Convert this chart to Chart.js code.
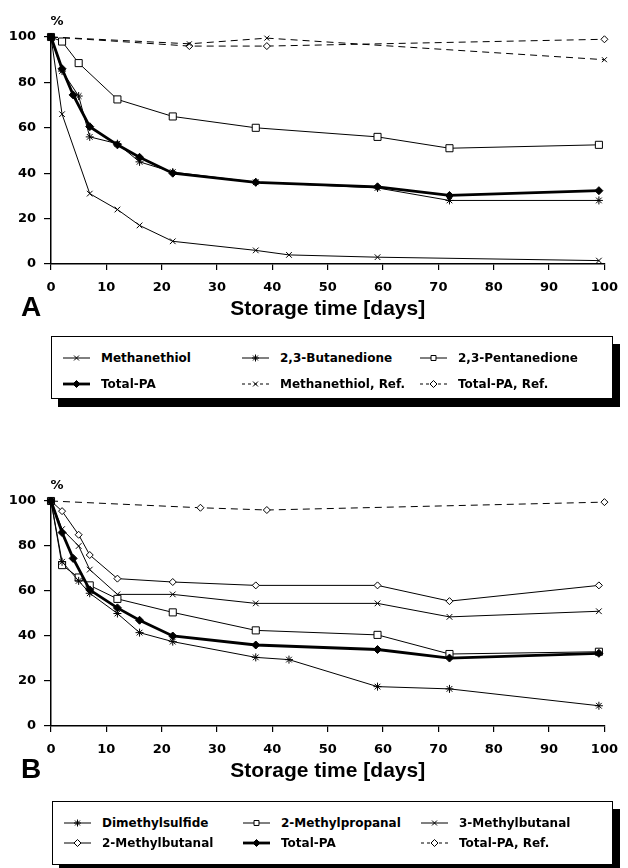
<!DOCTYPE html>
<html>
<head>
<meta charset="utf-8">
<title>Storage time</title>
<script src="https://cdn.jsdelivr.net/npm/chart.js@4.4.0/dist/chart.umd.min.js"></script>
<style>
    html, body { margin: 0; padding: 0; background: #fff; }
    #page { position: relative; width: 628px; height: 868px; overflow: hidden; }
    .panel { position: absolute; left: 0; }
    .legend {
        position: absolute;
        box-sizing: border-box;
        border: 1px solid #000;
        box-shadow: 7px 8px 0 #000;
        background: #fff;
        padding-left: 11px;
        display: grid;
        grid-template-columns: 179px 178px 1fr;
        font: bold 12px "DejaVu Sans", sans-serif;
        color: #000;
    }
    .legend .item { display: flex; align-items: center; white-space: nowrap; }
    .legend canvas { margin-right: 11px; }
    #legendA { left: 51px; top: 336px; width: 562px; height: 63px; padding-top: 8px; grid-auto-rows: 26px; }
    #legendB { left: 52px; top: 801px; width: 561px; height: 64px; padding-top: 11px; grid-auto-rows: 20px; }
</style>
</head>
<body>
<div id="page">
    <div class="panel" style="top:0"><canvas id="chartA" width="628" height="330"></canvas></div>
    <div class="legend" id="legendA"></div>
    <div class="panel" style="top:462px"><canvas id="chartB" width="628" height="330"></canvas></div>
    <div class="legend" id="legendB"></div>
</div>

<script>
"use strict";

// ---- panel A : sulfur compounds and diketones (% of initial amount) ----
var methanethiolDays = [0, 2, 7, 12, 16, 22, 37, 43, 59, 99];
var methanethiol     = [100, 66, 31, 24, 17, 10, 6, 4, 3, 1.5];

var butanedioneDays  = [0, 2, 5, 7, 12, 16, 22, 37, 59, 72, 99];
var butanedione      = [100, 85, 74, 56, 53, 45, 40.5, 36, 33.5, 28, 28];

var pentanedioneDays = [0, 2, 5, 12, 22, 37, 59, 72, 99];
var pentanedione     = [100, 98, 88.5, 72.5, 65, 60, 56, 51, 52.5];

// total of all flavour compounds, same curve in both panels
var totalDays        = [0, 2, 4, 7, 12, 16, 22, 37, 59, 72, 99];
var totalPA          = [100, 86, 74.5, 60.5, 52.5, 47, 40, 36, 34, 30.2, 32.3];

var refDaysA         = [0, 25, 39, 100];
var methanethiolRef  = [100, 97, 99.5, 90];
var totalRefA        = [100, 96, 96, 99];

// ---- panel B : aldehydes and dimethylsulfide ----
var dmsDays          = [0, 2, 5, 7, 12, 16, 22, 37, 43, 59, 72, 99];
var dimethylsulfide  = [100, 73, 64.5, 59, 50, 41.5, 37.5, 30.5, 29.5, 17.5, 16.5, 9];

var aldehydeDays     = [0, 2, 5, 7, 12, 22, 37, 59, 72, 99];
var methylpropanal   = [100, 71.5, 66, 62.5, 56.5, 50.5, 42.5, 40.5, 32, 33];
var methylbutanal3   = [100, 87.5, 80, 69.5, 58.5, 58.5, 54.5, 54.5, 48.5, 51];
var methylbutanal2   = [100, 95.5, 85, 76, 65.5, 64, 62.5, 62.5, 55.5, 62.5];

var refDaysB         = [0, 27, 39, 100];
var totalRefB        = [100, 97, 96, 99.5];

// axis ticks
var dayTicks     = [0, 10, 20, 30, 40, 50, 60, 70, 80, 90, 100];
var percentTicks = [0, 20, 40, 60, 80, 100];


var tickFont = { family: "DejaVu Sans", weight: "bold", size: 13 };

function series(label, days, values, style) {
    var ds = {
        label: label,
        data: days.map(function(d, i) { return { x: d, y: values[i] }; }),
        borderColor: "#000",
        borderWidth: 1,
        pointBorderColor: "#000",
        pointBackgroundColor: "#fff",
        pointBorderWidth: 1,
        pointRadius: 4,
        pointHoverRadius: 4,
        tension: 0,
        fill: false,
        clip: false
    };
    return Object.assign(ds, style);
}

// "%" over the value axis and the panel letter under it
var panelLabels = {
    id: "panelLabels",
    afterDraw: function(chart, args, opts) {
        var ctx = chart.ctx, area = chart.chartArea;
        ctx.save();
        ctx.fillStyle = "#000";
        ctx.textAlign = "center";
        ctx.textBaseline = "middle";
        ctx.font = "bold 13px 'DejaVu Sans'";
        ctx.fillText("%", area.left + 6, area.top - 15);
        ctx.font = "bold 28px 'Liberation Sans'";
        ctx.fillText(opts.letter, 31, area.bottom + 44);
        ctx.restore();
    }
};

function makeChart(id, letter, topPad, datasets) {
    return new Chart(document.getElementById(id), {
        type: "line",
        data: { datasets: datasets },
        plugins: [panelLabels],
        options: {
            responsive: false,
            animation: false,
            events: [],
            layout: { padding: { top: topPad, right: 15, bottom: 0, left: 0 } },
            plugins: {
                legend: { display: false },
                tooltip: { enabled: false },
                panelLabels: { letter: letter }
            },
            scales: {
                x: {
                    type: "linear",
                    min: 0,
                    max: 100,
                    afterFit: function(s) { s.height = 66; },
                    afterBuildTicks: function(s) { s.ticks = dayTicks.map(function(v) { return { value: v }; }); },
                    border: { color: "#000", width: 1.5 },
                    grid: { drawOnChartArea: false, tickLength: 6, color: "#000", lineWidth: 1.2 },
                    ticks: { autoSkip: false, maxRotation: 0, padding: 10, color: "#000", font: tickFont },
                    title: {
                        display: true,
                        text: "Storage time [days]",
                        color: "#000",
                        font: { family: "Liberation Sans", weight: "bold", size: 21 },
                        padding: { top: 0, bottom: 8 }
                    }
                },
                y: {
                    min: 0,
                    max: 100,
                    afterFit: function(s) { s.width = 51; },
                    afterBuildTicks: function(s) { s.ticks = percentTicks.map(function(v) { return { value: v }; }); },
                    border: { color: "#000", width: 1.5 },
                    grid: { drawOnChartArea: false, tickLength: 7, color: "#000", lineWidth: 1.2 },
                    ticks: { padding: 8, color: "#000", font: tickFont }
                }
            }
        }
    });
}

// legend: line sample drawn with the chart's own point renderer
function buildLegend(chart, el) {
    chart.data.datasets.forEach(function(ds) {
        var item = document.createElement("div");
        item.className = "item";
        var c = document.createElement("canvas");
        c.width = 27; c.height = 12;
        var g = c.getContext("2d");
        g.strokeStyle = "#000";
        g.lineWidth = ds.borderWidth;
        g.setLineDash(ds.borderDash ? [3, 3] : []);
        g.beginPath(); g.moveTo(0, 6); g.lineTo(27, 6); g.stroke();
        g.setLineDash([]);
        g.lineWidth = 1;
        g.fillStyle = ds.pointBackgroundColor;
        Chart.helpers.drawPoint(g, {
            pointStyle: ds.pointStyle,
            radius: Math.min(ds.pointRadius, 3.5),
            borderWidth: 1,
            rotation: 0
        }, 13.5, 6);
        var txt = document.createElement("span");
        txt.textContent = ds.label;
        item.appendChild(c);
        item.appendChild(txt);
        el.appendChild(item);
    });
}

// Total-PA gets the heavy line and sits on top of the others
var thick = { borderWidth: 2.8, pointStyle: "rectRot", pointRadius: 4, pointBackgroundColor: "#000", order: -1 };
var dashed = { borderDash: [7, 5], pointRadius: 3.5 };

var chartA = makeChart("chartA", "A", 37, [
    series("Methanethiol", methanethiolDays, methanethiol, { pointStyle: "crossRot" }),
    series("2,3-Butanedione", butanedioneDays, butanedione, { pointStyle: "star" }),
    series("2,3-Pentanedione", pentanedioneDays, pentanedione, { pointStyle: "rect", pointRadius: 5 }),
    series("Total-PA", totalDays, totalPA, thick),
    series("Methanethiol, Ref.", refDaysA, methanethiolRef, Object.assign({ pointStyle: "crossRot" }, dashed)),
    series("Total-PA, Ref.", refDaysA, totalRefA, Object.assign({ pointStyle: "rectRot", pointRadius: 3 }, dashed))
]);

var chartB = makeChart("chartB", "B", 39, [
    series("Dimethylsulfide", dmsDays, dimethylsulfide, { pointStyle: "star" }),
    series("2-Methylpropanal", aldehydeDays, methylpropanal, { pointStyle: "rect", pointRadius: 5 }),
    series("3-Methylbutanal", aldehydeDays, methylbutanal3, { pointStyle: "crossRot" }),
    series("2-Methylbutanal", aldehydeDays, methylbutanal2, { pointStyle: "rectRot", pointRadius: 3.5 }),
    series("Total-PA", totalDays, totalPA, thick),
    series("Total-PA, Ref.", refDaysB, totalRefB, Object.assign({ pointStyle: "rectRot", pointRadius: 3 }, dashed))
]);

buildLegend(chartA, document.getElementById("legendA"));
buildLegend(chartB, document.getElementById("legendB"));
</script>
</body>
</html>
